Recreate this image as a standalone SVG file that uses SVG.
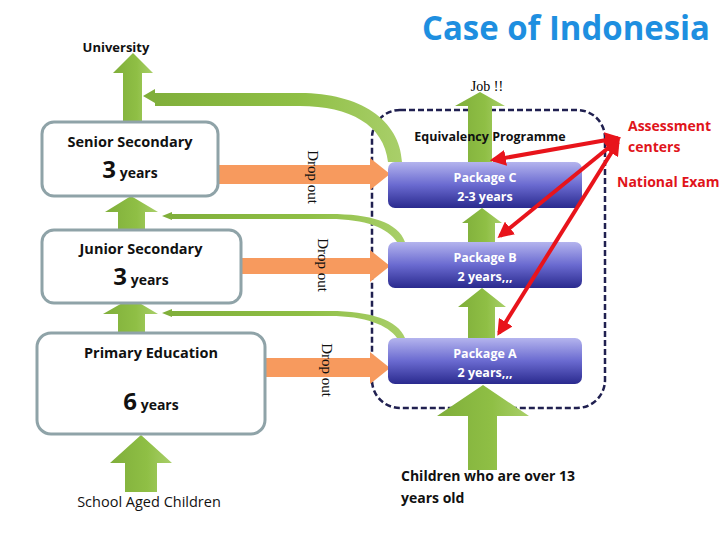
<svg xmlns="http://www.w3.org/2000/svg" width="720" height="540" viewBox="0 0 720 540">
<defs>
<linearGradient id="pk" x1="0" y1="0" x2="0" y2="1"><stop offset="0" stop-color="#b4b4ee"/><stop offset="0.5" stop-color="#6a6ad0"/><stop offset="1" stop-color="#2a2a8e"/></linearGradient>
<linearGradient id="gr" x1="0" y1="0" x2="1" y2="0"><stop offset="0" stop-color="#7fae3a"/><stop offset="0.6" stop-color="#8fbf45"/><stop offset="1" stop-color="#a9cf6a"/></linearGradient>
<marker id="rh" viewBox="0 0 10 10" refX="8" refY="5" markerWidth="4" markerHeight="4" orient="auto-start-reverse"><path d="M0,0 L10,5 L0,10 z" fill="#e8141b"/></marker>
</defs>
<style>
.box{fill:#fff;stroke:#8fa3a8;stroke-width:3}
.t{font-family:"Open Sans","Liberation Sans",sans-serif;font-weight:bold;fill:#111}
.g{fill:url(#gr)}
.o{fill:#f79a5e}
.pt{font-family:"Open Sans","Liberation Sans",sans-serif;font-weight:bold;fill:#fff;font-size:12.5px;text-anchor:middle}
.d{font-family:"Liberation Serif",serif;font-size:15px;fill:#111}
.r{font-family:"Open Sans","Liberation Sans",sans-serif;font-weight:bold;fill:#e0141b;font-size:14px}
.rl{stroke:#e8141b;stroke-width:4;fill:none;marker-start:url(#rh);marker-end:url(#rh)}
</style>
<rect width="720" height="540" fill="#fff"/>
<text x="566" y="40" text-anchor="middle" font-family="'Open Sans','Liberation Sans',sans-serif" font-weight="bold" font-size="34" fill="#1e8fe0" textLength="288" lengthAdjust="spacingAndGlyphs">Case of Indonesia</text>
<text x="116" y="52" class="t" font-size="13" text-anchor="middle">University</text>
<text x="487" y="91" font-family="'Liberation Serif',serif" font-size="14" text-anchor="middle">Job !!</text>
<rect x="372" y="110" width="233" height="298" rx="28" fill="none" stroke="#202050" stroke-width="2.5" stroke-dasharray="6,3"/>
<g id="connectors">
<path class="g" d="M123,122 V73 H113 L133,53 L153,73 H142 V122 Z"/>
<path class="g" d="M118,230 V212 H105 L131,196 L158,212 H145 V230 Z"/>
<path class="g" d="M118,333 V314 H103 L131,298 L158,314 H145 V333 Z"/>
<path class="g" d="M125,492 V463 H110 L141,435 L172,463 H157 V492 Z"/>
<path class="g" d="M468,162 V106 H455 L480,92 L505,106 H492 V162 Z"/>
<path class="g" d="M468,242 V223 H462 L482,208 L502,223 H495 V242 Z"/>
<path class="g" d="M468,338 V307 H458 L482,288 L506,307 H495 V338 Z"/>
<path class="g" d="M468,470 V416 H437 L483,385 L529,416 H497 V470 Z"/>
<path class="g" d="M143,96 L155,89 V93 H300 C360,93 400,120 402,162 H388 C384,125 350,106 300,106 H155 V103 Z"/>
<path class="g" d="M162,216 L172,212 V214 H330 C370,214 398,222 405,242 H397 C388,228 365,219 330,219 H172 V220 Z"/>
<path class="g" d="M162,313 L172,309 V311 H330 C370,311 398,320 405,338 H397 C388,325 365,316 330,316 H172 V317 Z"/>
<path class="o" d="M218,165 H370 V158 L390,174 L370,190 V184 H218 Z"/>
<path class="o" d="M241,258 H370 V250 L390,266 L370,282 V274 H241 Z"/>
<path class="o" d="M265,358 H370 V352 L390,368 L370,384 V377 H265 Z"/>
</g>
<g id="senior"><rect class="box" x="42" y="122" width="176" height="74" rx="12"/>
<text x="130" y="147" class="t" font-size="14.5" text-anchor="middle">Senior Secondary</text>
<text x="130" y="178" class="t" text-anchor="middle"><tspan font-size="24">3</tspan><tspan font-size="14"> years</tspan></text></g>
<g id="junior"><rect class="box" x="42" y="230" width="199" height="73" rx="12"/>
<text x="141" y="254" class="t" font-size="14.5" text-anchor="middle">Junior Secondary</text>
<text x="141" y="285" class="t" text-anchor="middle"><tspan font-size="24">3</tspan><tspan font-size="14"> years</tspan></text></g>
<g id="primary"><rect class="box" x="37" y="333" width="228" height="101" rx="14"/>
<text x="151" y="358" class="t" font-size="14.5" text-anchor="middle">Primary Education</text>
<text x="151" y="410" class="t" text-anchor="middle"><tspan font-size="24">6</tspan><tspan font-size="14"> years</tspan></text></g>
<text x="149" y="507" font-family="'Open Sans','Liberation Sans',sans-serif" font-size="14.5" text-anchor="middle" fill="#111">School Aged Children</text>
<text class="d" transform="translate(308,177) rotate(90)" text-anchor="middle">Drop out</text>
<text class="d" transform="translate(318,265) rotate(90)" text-anchor="middle">Drop out</text>
<text class="d" transform="translate(322,370) rotate(90)" text-anchor="middle">Drop out</text>
<text x="490" y="141" class="t" font-size="12.5" text-anchor="middle">Equivalency Programme</text>
<g id="pkgC"><rect x="388" y="162" width="194" height="46" rx="7" fill="url(#pk)"/><text class="pt" x="485" y="182">Package C</text><text class="pt" x="485" y="201">2-3 years</text></g>
<g id="pkgB"><rect x="388" y="242" width="194" height="46" rx="7" fill="url(#pk)"/><text class="pt" x="485" y="262">Package B</text><text class="pt" x="485" y="281">2 years,,,</text></g>
<g id="pkgA"><rect x="388" y="338" width="194" height="46" rx="7" fill="url(#pk)"/><text class="pt" x="485" y="358">Package A</text><text class="pt" x="485" y="377">2 years,,,</text></g>
<g id="red-arrows">
<line class="rl" x1="618" y1="138" x2="493" y2="160"/>
<line class="rl" x1="618" y1="140" x2="500" y2="236"/>
<line class="rl" x1="618" y1="142" x2="499" y2="333"/>
</g>
<text class="r" x="628" y="131">Assessment</text>
<text class="r" x="628" y="152">centers</text>
<text class="r" x="617" y="187">National Exam</text>
<text x="401" y="481" class="t" font-size="14">Children who are over 13</text>
<text x="401" y="503" class="t" font-size="14">years old</text>
</svg>
